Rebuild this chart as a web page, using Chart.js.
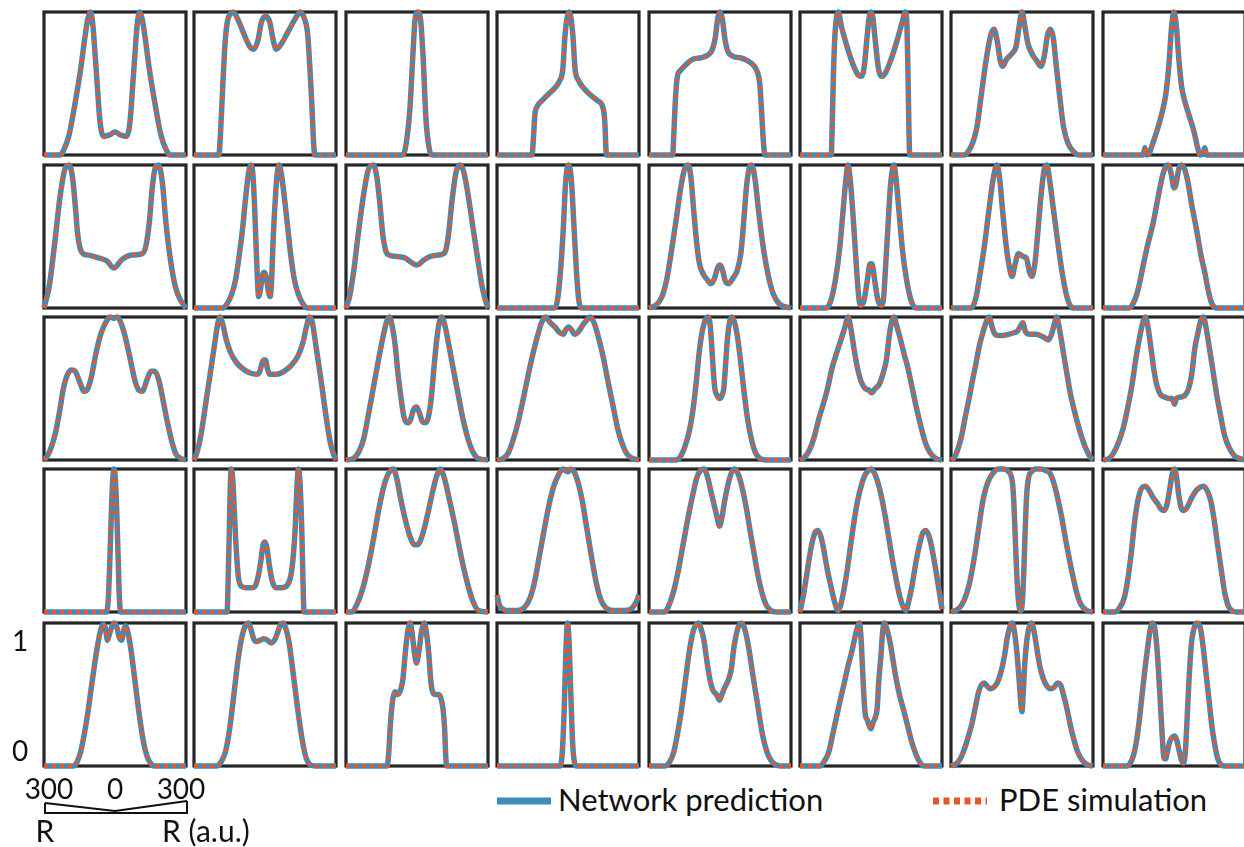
<!DOCTYPE html>
<html>
<head>
<meta charset="utf-8">
<script src="https://cdn.jsdelivr.net/npm/chart.js@4.4.1/dist/chart.umd.min.js"></script>
<style>
  body { margin: 0; width: 1244px; height: 847px; overflow: hidden; position: relative; background: #fff;
         font-family: Lato, "Open Sans", sans-serif; color: #111; }
  canvas.panel { position: absolute; }
  .lbl { position: absolute; font-size: 28px; line-height: 1; white-space: nowrap; }
  .mid { transform: translate(-50%, -50%); }
  .left { transform: translate(0, -50%); }
</style>
</head>
<body>
<script>
// radial profiles, [R, intensity], one list per row
const row1 = [
  [[-300,0],[-232,0],[-218,0.03],[-194,0.14],[-170,0.35],[-145,0.6],[-129,0.8],[-115,0.95],[-104,1],[-93,0.9],[-84,0.7],[-75,0.49],[-66,0.28],[-58,0.17],[-46,0.13],[-24,0.14],[0,0.16],[24,0.14],[46,0.13],[58,0.17],[66,0.28],[75,0.49],[84,0.7],[93,0.9],[104,1],[115,0.95],[129,0.8],[145,0.6],[170,0.35],[194,0.14],[218,0.03],[232,0],[300,0]],
  [[-300,0],[-195,0],[-188,0.15],[-178,0.5],[-168,0.8],[-158,0.94],[-145,0.99],[-134,1],[-115,0.95],[-90,0.85],[-65,0.76],[-48,0.74],[-30,0.8],[-15,0.93],[3,0.97],[20,0.93],[35,0.8],[48,0.74],[70,0.78],[100,0.87],[130,0.96],[149,1],[165,0.96],[180,0.85],[190,0.6],[198,0.35],[205,0.1],[210,0],[300,0]],
  [[-300,0],[-62,0],[-50,0.04],[-30,0.32],[-18,0.68],[-8,0.95],[4,1],[15,0.95],[26,0.68],[38,0.25],[50,0.06],[62,0],[300,0]],
  [[-300,0],[-152,0],[-146,0.12],[-140,0.28],[-130,0.34],[-110,0.38],[-80,0.43],[-55,0.47],[-35,0.52],[-22,0.6],[-12,0.85],[5,1],[20,0.85],[30,0.6],[45,0.52],[65,0.47],[95,0.42],[125,0.38],[148,0.33],[156,0.22],[160,0.05],[163,0],[300,0]],
  [[-300,0],[-200,0],[-195,0.15],[-188,0.4],[-180,0.55],[-168,0.59],[-145,0.63],[-115,0.67],[-80,0.68],[-50,0.7],[-32,0.74],[-20,0.82],[-10,0.95],[0,1],[10,0.95],[20,0.82],[32,0.73],[55,0.69],[85,0.68],[115,0.66],[140,0.63],[158,0.58],[168,0.5],[176,0.3],[183,0.1],[190,0],[300,0]],
  [[-300,0],[-168,0],[-164,0.2],[-159,0.55],[-152,0.85],[-145,0.97],[-138,1],[-125,0.9],[-105,0.78],[-80,0.65],[-55,0.56],[-42,0.55],[-30,0.6],[-18,0.8],[-8,0.96],[0,1],[8,0.96],[18,0.8],[32,0.6],[45,0.55],[60,0.57],[85,0.67],[110,0.8],[132,0.93],[145,1],[152,0.9],[156,0.6],[159,0.3],[162,0.05],[165,0],[300,0]],
  [[-300,0],[-245,0],[-225,0.03],[-205,0.1],[-190,0.2],[-172,0.42],[-150,0.68],[-132,0.84],[-118,0.88],[-105,0.8],[-92,0.66],[-82,0.62],[-65,0.67],[-42,0.71],[-25,0.76],[-12,0.9],[0,1],[12,0.9],[25,0.78],[45,0.7],[62,0.66],[80,0.62],[95,0.7],[108,0.84],[120,0.88],[132,0.82],[145,0.62],[160,0.4],[175,0.2],[195,0.08],[220,0.02],[240,0],[300,0]],
  [[-300,0],[-130,0],[-123,0.05],[-115,0],[-105,0.01],[-90,0.08],[-70,0.18],[-50,0.3],[-35,0.42],[-22,0.62],[-10,0.9],[0,1],[10,0.9],[20,0.68],[32,0.48],[45,0.38],[65,0.27],[85,0.16],[100,0.05],[110,0],[122,0.01],[130,0.05],[138,0],[300,0]]
];
const row2 = [
  [[-300,0],[-278,0.15],[-255,0.45],[-232,0.78],[-212,0.97],[-194,1],[-180,0.92],[-168,0.72],[-158,0.52],[-148,0.42],[-135,0.38],[-110,0.37],[-70,0.35],[-35,0.33],[-5,0.28],[30,0.34],[70,0.37],[115,0.38],[130,0.43],[145,0.6],[158,0.85],[172,0.99],[184,1],[200,0.88],[215,0.6],[235,0.33],[255,0.15],[275,0.06],[300,0]],
  [[-300,0],[-180,0],[-160,0.03],[-140,0.1],[-124,0.2],[-108,0.38],[-95,0.55],[-80,0.8],[-68,0.96],[-60,1],[-52,0.95],[-45,0.75],[-38,0.45],[-32,0.2],[-27,0.08],[-20,0.12],[-12,0.22],[-4,0.25],[5,0.22],[14,0.12],[22,0.08],[28,0.2],[35,0.5],[45,0.8],[53,0.96],[60,1],[68,0.95],[80,0.8],[95,0.58],[108,0.38],[124,0.2],[140,0.1],[160,0.03],[180,0],[300,0]],
  [[-300,0],[-285,0.08],[-268,0.25],[-248,0.52],[-225,0.8],[-205,0.97],[-184,1],[-170,0.92],[-158,0.75],[-145,0.52],[-132,0.4],[-118,0.37],[-85,0.36],[-50,0.35],[-25,0.32],[0,0.3],[25,0.33],[55,0.36],[90,0.37],[118,0.39],[132,0.5],[148,0.75],[165,0.95],[182,1],[198,0.95],[215,0.8],[235,0.58],[255,0.36],[275,0.15],[290,0.05],[300,0]],
  [[-300,0],[-58,0],[-45,0.05],[-32,0.25],[-20,0.55],[-10,0.88],[2,1],[14,0.9],[25,0.58],[36,0.25],[46,0.05],[56,0],[300,0]],
  [[-300,0],[-270,0.02],[-245,0.08],[-225,0.2],[-205,0.4],[-185,0.62],[-165,0.85],[-148,0.98],[-134,1],[-122,0.9],[-112,0.7],[-100,0.48],[-88,0.32],[-72,0.24],[-55,0.2],[-38,0.17],[-25,0.2],[-10,0.28],[0,0.3],[10,0.27],[22,0.19],[35,0.17],[55,0.21],[72,0.26],[88,0.38],[100,0.6],[112,0.85],[124,0.98],[134,1],[148,0.9],[165,0.65],[185,0.4],[205,0.22],[225,0.1],[250,0.03],[300,0]],
  [[-300,0],[-190,0],[-170,0.05],[-150,0.2],[-132,0.42],[-118,0.68],[-106,0.9],[-97,1],[-88,0.9],[-78,0.7],[-68,0.45],[-58,0.2],[-50,0.05],[-44,0.02],[-30,0.05],[-15,0.2],[-6,0.3],[0,0.31],[6,0.3],[15,0.2],[30,0.05],[44,0.02],[52,0.05],[62,0.3],[72,0.58],[82,0.85],[92,0.98],[97,1],[106,0.9],[118,0.68],[132,0.42],[150,0.2],[170,0.05],[190,0],[300,0]],
  [[-300,0],[-215,0],[-195,0.07],[-178,0.23],[-160,0.42],[-140,0.68],[-122,0.9],[-106,1],[-94,0.9],[-82,0.68],[-68,0.45],[-55,0.3],[-42,0.22],[-30,0.3],[-15,0.38],[-5,0.37],[5,0.36],[18,0.35],[32,0.25],[42,0.22],[55,0.32],[68,0.55],[80,0.78],[94,0.97],[105,1],[118,0.88],[132,0.7],[148,0.5],[162,0.33],[180,0.15],[195,0.05],[215,0],[300,0]],
  [[-300,0],[-190,0],[-170,0.04],[-150,0.14],[-130,0.3],[-110,0.45],[-90,0.58],[-70,0.75],[-52,0.9],[-38,0.98],[-25,1],[-12,0.94],[0,0.84],[8,0.86],[20,0.97],[32,1],[45,0.97],[60,0.87],[75,0.72],[95,0.55],[115,0.36],[130,0.25],[145,0.12],[160,0.03],[180,0],[300,0]]
];
const row3 = [
  [[-300,0],[-285,0.03],[-267,0.1],[-250,0.2],[-235,0.33],[-218,0.5],[-200,0.6],[-183,0.63],[-168,0.62],[-150,0.55],[-130,0.48],[-118,0.49],[-100,0.58],[-80,0.75],[-60,0.88],[-40,0.96],[-20,1],[-5,0.99],[10,1],[25,0.96],[45,0.85],[65,0.7],[85,0.55],[100,0.49],[115,0.48],[135,0.56],[152,0.62],[168,0.62],[185,0.56],[205,0.4],[222,0.26],[240,0.13],[258,0.04],[280,0.01],[300,0]],
  [[-300,0],[-288,0.05],[-270,0.18],[-250,0.4],[-230,0.62],[-212,0.82],[-200,0.95],[-191,1],[-180,0.96],[-165,0.85],[-145,0.75],[-120,0.68],[-95,0.64],[-65,0.61],[-35,0.6],[-22,0.62],[-12,0.68],[-5,0.7],[2,0.7],[10,0.64],[20,0.6],[50,0.6],[80,0.62],[110,0.66],[140,0.73],[160,0.82],[175,0.93],[188,1],[200,0.96],[215,0.8],[235,0.58],[255,0.34],[275,0.13],[290,0.04],[300,0]],
  [[-300,0],[-270,0.01],[-245,0.06],[-225,0.15],[-205,0.32],[-185,0.5],[-165,0.68],[-145,0.85],[-128,0.97],[-116,1],[-104,0.93],[-92,0.8],[-80,0.6],[-68,0.44],[-55,0.3],[-40,0.26],[-28,0.28],[-15,0.35],[-2,0.37],[10,0.33],[22,0.27],[35,0.26],[48,0.3],[60,0.43],[72,0.65],[84,0.85],[95,0.97],[104,1],[118,0.94],[135,0.8],[155,0.62],[175,0.45],[195,0.28],[215,0.15],[235,0.06],[260,0.01],[300,0]],
  [[-300,0],[-275,0.01],[-252,0.05],[-230,0.15],[-210,0.27],[-190,0.42],[-170,0.58],[-150,0.73],[-130,0.86],[-112,0.96],[-95,1],[-75,0.96],[-55,0.93],[-35,0.89],[-20,0.88],[-10,0.91],[3,0.93],[15,0.91],[28,0.88],[45,0.9],[65,0.95],[80,0.98],[93,1],[110,0.96],[130,0.85],[150,0.71],[170,0.54],[190,0.38],[210,0.22],[230,0.11],[250,0.04],[275,0.01],[300,0]],
  [[-300,0],[-185,0],[-165,0.03],[-147,0.1],[-130,0.2],[-115,0.34],[-100,0.55],[-88,0.75],[-75,0.9],[-62,0.98],[-50,1],[-42,0.95],[-35,0.8],[-28,0.62],[-22,0.5],[-12,0.45],[-2,0.43],[8,0.45],[16,0.5],[23,0.65],[30,0.82],[40,0.96],[50,1],[60,0.97],[72,0.88],[85,0.72],[100,0.5],[118,0.27],[135,0.13],[150,0.05],[170,0.01],[195,0],[300,0]],
  [[-300,0],[-280,0.02],[-260,0.07],[-240,0.16],[-220,0.29],[-200,0.4],[-185,0.49],[-165,0.64],[-145,0.75],[-125,0.85],[-110,0.93],[-97,1],[-85,0.92],[-72,0.78],[-58,0.65],[-42,0.55],[-25,0.5],[-10,0.49],[3,0.47],[18,0.5],[35,0.53],[50,0.6],[65,0.7],[78,0.88],[88,0.97],[97,1],[110,0.93],[125,0.84],[140,0.74],[155,0.65],[172,0.52],[190,0.38],[210,0.24],[230,0.12],[250,0.05],[275,0.01],[300,0]],
  [[-300,0],[-285,0.02],[-270,0.08],[-255,0.17],[-240,0.3],[-225,0.42],[-210,0.55],[-195,0.67],[-180,0.8],[-162,0.91],[-148,0.98],[-138,1],[-128,0.94],[-118,0.89],[-100,0.87],[-80,0.87],[-55,0.88],[-35,0.89],[-20,0.9],[-8,0.93],[3,0.96],[14,0.9],[30,0.88],[60,0.88],[90,0.86],[112,0.84],[125,0.88],[138,0.96],[146,1],[158,0.92],[172,0.78],[188,0.62],[205,0.46],[225,0.32],[245,0.2],[265,0.1],[285,0.03],[300,0]],
  [[-300,0],[-275,0.01],[-255,0.05],[-235,0.12],[-215,0.22],[-195,0.37],[-178,0.52],[-160,0.72],[-145,0.86],[-132,0.96],[-121,1],[-110,0.93],[-97,0.78],[-85,0.63],[-72,0.52],[-58,0.46],[-40,0.44],[-20,0.43],[-8,0.43],[2,0.39],[10,0.43],[25,0.44],[45,0.45],[62,0.5],[75,0.6],[88,0.78],[100,0.88],[112,0.97],[124,1],[135,0.93],[148,0.8],[165,0.62],[181,0.45],[198,0.3],[214,0.17],[235,0.08],[255,0.03],[280,0.01],[300,0]]
];
const row4 = [
  [[-300,0],[-36,0],[-28,0.1],[-20,0.45],[-12,0.85],[-4,1],[4,0.85],[12,0.45],[18,0.12],[24,0],[300,0]],
  [[-300,0],[-160,0],[-156,0.2],[-151,0.55],[-147,0.85],[-143,1],[-136,0.92],[-128,0.65],[-120,0.4],[-112,0.24],[-100,0.18],[-80,0.17],[-55,0.17],[-42,0.18],[-30,0.24],[-18,0.35],[-8,0.47],[0,0.49],[8,0.45],[18,0.33],[30,0.22],[45,0.17],[70,0.17],[95,0.19],[110,0.26],[120,0.4],[128,0.6],[135,0.88],[141,1],[148,0.9],[155,0.6],[160,0.25],[165,0],[300,0]],
  [[-300,0],[-275,0],[-255,0.05],[-230,0.16],[-205,0.33],[-185,0.5],[-160,0.73],[-140,0.88],[-120,0.97],[-100,1],[-85,0.93],[-70,0.8],[-50,0.65],[-30,0.53],[-10,0.47],[0,0.47],[12,0.49],[30,0.58],[50,0.72],[70,0.87],[85,0.96],[97,1],[115,0.94],[135,0.8],[160,0.61],[185,0.4],[210,0.22],[235,0.08],[260,0.01],[300,0]],
  [[-300,0.12],[-290,0.05],[-275,0.02],[-250,0.01],[-215,0.01],[-185,0.03],[-160,0.1],[-140,0.22],[-120,0.4],[-100,0.58],[-80,0.75],[-60,0.88],[-40,0.96],[-22,1],[-12,0.99],[0,0.98],[10,1],[22,0.99],[40,0.92],[60,0.78],[80,0.58],[100,0.38],[120,0.2],[140,0.08],[160,0.03],[190,0.01],[235,0.01],[265,0.02],[285,0.06],[300,0.12]],
  [[-300,0],[-235,0],[-215,0.05],[-195,0.15],[-175,0.3],[-155,0.48],[-135,0.66],[-115,0.82],[-98,0.94],[-82,0.99],[-67,1],[-52,0.94],[-38,0.84],[-25,0.75],[-12,0.66],[-2,0.6],[8,0.66],[20,0.78],[35,0.9],[50,0.98],[62,1],[78,0.96],[95,0.86],[112,0.72],[128,0.56],[145,0.4],[160,0.26],[178,0.13],[195,0.05],[215,0.01],[240,0],[300,0]],
  [[-300,0],[-285,0.12],[-268,0.3],[-252,0.46],[-238,0.55],[-225,0.57],[-212,0.53],[-200,0.44],[-185,0.3],[-168,0.17],[-152,0.06],[-140,0.01],[-128,0.05],[-115,0.15],[-100,0.3],[-85,0.48],[-70,0.65],[-55,0.79],[-40,0.89],[-25,0.96],[-10,0.99],[0,1],[15,0.97],[30,0.9],[45,0.8],[60,0.67],[75,0.52],[90,0.37],[105,0.24],[120,0.12],[135,0.04],[147,0.01],[160,0.08],[175,0.2],[190,0.35],[205,0.47],[218,0.55],[232,0.57],[245,0.53],[258,0.44],[270,0.33],[285,0.18],[300,0.02]],
  [[-300,0],[-270,0.02],[-245,0.08],[-225,0.18],[-210,0.3],[-195,0.45],[-180,0.62],[-165,0.78],[-150,0.88],[-135,0.94],[-118,0.98],[-100,1],[-80,1],[-62,0.99],[-48,0.96],[-40,0.9],[-34,0.75],[-28,0.5],[-22,0.26],[-16,0.1],[-10,0.02],[-4,0.01],[2,0.08],[8,0.3],[14,0.6],[20,0.82],[28,0.94],[40,0.98],[58,1],[80,1],[100,0.99],[118,0.97],[135,0.9],[150,0.8],[168,0.66],[185,0.5],[200,0.37],[215,0.25],[232,0.13],[250,0.05],[275,0.01],[300,0]],
  [[-300,0],[-250,0],[-230,0.03],[-210,0.1],[-195,0.23],[-180,0.42],[-165,0.65],[-150,0.8],[-135,0.87],[-121,0.88],[-105,0.85],[-88,0.8],[-70,0.76],[-55,0.72],[-42,0.71],[-30,0.75],[-18,0.86],[-8,0.96],[2,1],[10,0.95],[20,0.82],[30,0.73],[42,0.71],[55,0.73],[75,0.8],[100,0.86],[124,0.88],[140,0.85],[155,0.78],[170,0.64],[185,0.46],[200,0.29],[215,0.13],[230,0.04],[245,0.01],[265,0],[300,0]]
];
const row5 = [
  [[-300,0],[-175,0],[-160,0.03],[-145,0.1],[-130,0.22],[-115,0.37],[-100,0.55],[-88,0.69],[-75,0.83],[-62,0.94],[-50,0.99],[-40,0.96],[-32,0.88],[-22,0.93],[-12,0.98],[-3,1],[8,0.97],[18,0.9],[28,0.88],[36,0.94],[44,0.98],[55,0.93],[66,0.83],[78,0.68],[90,0.52],[105,0.33],[120,0.17],[135,0.07],[150,0.02],[165,0],[300,0]],
  [[-300,0],[-205,0],[-185,0.03],[-167,0.1],[-155,0.2],[-143,0.34],[-130,0.52],[-118,0.69],[-105,0.84],[-92,0.94],[-80,0.99],[-70,1],[-60,0.96],[-48,0.89],[-36,0.87],[-20,0.88],[-5,0.89],[10,0.88],[25,0.86],[40,0.88],[55,0.94],[66,0.99],[76,1],[88,0.96],[100,0.88],[112,0.74],[125,0.57],[138,0.4],[150,0.26],[162,0.14],[175,0.05],[190,0.01],[210,0],[300,0]],
  [[-300,0],[-126,0],[-120,0.08],[-112,0.3],[-102,0.47],[-92,0.52],[-82,0.5],[-72,0.52],[-60,0.6],[-50,0.78],[-40,0.93],[-29,1],[-20,0.92],[-10,0.78],[-2,0.72],[8,0.8],[20,0.95],[31,1],[40,0.93],[50,0.78],[58,0.6],[66,0.52],[78,0.5],[90,0.5],[100,0.48],[110,0.4],[117,0.25],[122,0.05],[126,0],[300,0]],
  [[-300,0],[-32,0],[-24,0.1],[-16,0.4],[-9,0.8],[-2,1],[5,0.85],[12,0.5],[20,0.15],[28,0.02],[36,0],[300,0]],
  [[-300,0],[-232,0],[-212,0.03],[-195,0.1],[-180,0.22],[-163,0.39],[-150,0.55],[-139,0.69],[-126,0.84],[-112,0.95],[-100,0.99],[-91,1],[-80,0.96],[-68,0.88],[-55,0.73],[-42,0.6],[-30,0.53],[-15,0.5],[-2,0.46],[8,0.5],[20,0.55],[35,0.6],[48,0.68],[58,0.82],[70,0.93],[82,0.99],[91,1],[102,0.97],[113,0.9],[124,0.8],[134,0.69],[146,0.56],[158,0.44],[170,0.31],[182,0.2],[198,0.1],[215,0.04],[235,0.01],[255,0],[300,0]],
  [[-300,0],[-215,0],[-195,0.04],[-178,0.1],[-162,0.22],[-146,0.34],[-130,0.46],[-113,0.58],[-97,0.7],[-81,0.8],[-68,0.9],[-56,0.98],[-49,1],[-43,0.92],[-38,0.76],[-32,0.55],[-25,0.37],[-15,0.32],[-5,0.27],[0,0.26],[8,0.3],[18,0.34],[26,0.4],[33,0.6],[41,0.75],[50,0.95],[57,1],[65,0.97],[81,0.86],[95,0.72],[105,0.62],[120,0.5],[138,0.39],[155,0.28],[170,0.18],[188,0.09],[205,0.03],[225,0],[300,0]],
  [[-300,0],[-275,0.02],[-258,0.06],[-243,0.12],[-228,0.2],[-211,0.3],[-196,0.42],[-183,0.52],[-170,0.57],[-160,0.58],[-148,0.56],[-135,0.54],[-120,0.55],[-105,0.58],[-90,0.65],[-75,0.76],[-62,0.9],[-50,0.98],[-41,1],[-32,0.94],[-22,0.8],[-12,0.6],[-4,0.42],[0,0.38],[5,0.5],[12,0.72],[22,0.9],[32,0.98],[41,1],[50,0.95],[62,0.83],[75,0.7],[90,0.61],[105,0.56],[120,0.54],[135,0.55],[150,0.58],[162,0.57],[175,0.5],[190,0.4],[205,0.28],[220,0.18],[235,0.1],[255,0.04],[275,0.01],[300,0]],
  [[-300,0],[-198,0],[-185,0.02],[-172,0.07],[-160,0.16],[-148,0.3],[-136,0.48],[-124,0.66],[-112,0.82],[-100,0.96],[-91,1],[-82,0.97],[-74,0.86],[-66,0.68],[-58,0.45],[-50,0.22],[-43,0.06],[-36,0.05],[-28,0.1],[-18,0.17],[-8,0.2],[2,0.21],[10,0.19],[20,0.12],[30,0.05],[40,0.02],[48,0.1],[56,0.35],[64,0.62],[74,0.86],[88,0.98],[100,1],[112,0.96],[124,0.82],[136,0.64],[148,0.46],[160,0.28],[172,0.15],[185,0.05],[198,0.01],[210,0],[300,0]]
];
const rows = [row1, row2, row3, row4, row5];

const seriesNames = ['Network prediction', 'PDE simulation'];
const radiusTicks = ['300', '0', '300'];
const intensityTicks = ['1', '0'];

const BLUE = '#3d8bba';
const ORANGE = '#e4582b';

// panel placement in the figure
const colLeft = [44, 194, 346, 497, 649, 800, 951, 1103];
const rowTop = [12, 165, 317, 469, 623];
const W = 142, H = 143, PAD = 7;

const frame = {
  id: 'frame',
  beforeDatasetsDraw(chart) {
    const ctx = chart.ctx, a = chart.chartArea;
    ctx.save();
    ctx.strokeStyle = '#262626';
    ctx.lineWidth = 3.2;
    ctx.strokeRect(a.left, a.top, a.right - a.left, a.bottom - a.top);
    ctx.restore();
  }
};

function makePanel(profile, left, top) {
  var canvas = document.createElement('canvas');
  canvas.className = 'panel';
  canvas.width = W + 2 * PAD;
  canvas.height = H + 2 * PAD;
  canvas.style.left = (left - PAD) + 'px';
  canvas.style.top = (top - PAD) + 'px';
  canvas.style.width = canvas.width + 'px';
  canvas.style.height = canvas.height + 'px';
  document.body.appendChild(canvas);

  var pts = profile.map(function(p) { return {x: p[0], y: p[1]}; });

  new Chart(canvas.getContext('2d'), {
    type: 'line',
    data: {
      datasets: [
        // index 0 is drawn last, so the dotted PDE line sits on top
        { label: seriesNames[1], data: pts, borderColor: ORANGE, borderWidth: 4, borderDash: [4, 4],
          borderCapStyle: 'butt', pointRadius: 0, cubicInterpolationMode: 'monotone', clip: false },
        { label: seriesNames[0], data: pts, borderColor: BLUE, borderWidth: 5.5,
          pointRadius: 0, cubicInterpolationMode: 'monotone', clip: false }
      ]
    },
    options: {
      responsive: false,
      animation: false,
      devicePixelRatio: 1,
      layout: { padding: PAD },
      events: [],
      plugins: { legend: { display: false }, tooltip: { enabled: false } },
      scales: {
        x: { type: 'linear', min: -300, max: 300, display: false },
        y: { type: 'linear', min: 0, max: 1, display: false }
      }
    },
    plugins: [frame]
  });
}

rows.forEach(function(row, r) {
  row.forEach(function(profile, c) {
    makePanel(profile, colLeft[c], rowTop[r]);
  });
});

function addText(txt, x, y, cls, size) {
  var d = document.createElement('div');
  d.className = 'lbl ' + cls;
  d.textContent = txt;
  d.style.left = x + 'px';
  d.style.top = y + 'px';
  if (size) d.style.fontSize = size + 'px';
  document.body.appendChild(d);
  return d;
}

// axis hints on the bottom-left panel
addText(intensityTicks[0], 20, 640, 'mid');
addText(intensityTicks[1], 20, 750, 'mid');
addText(radiusTicks[0], 49, 788, 'mid');
addText(radiusTicks[1], 115, 788, 'mid');
addText(radiusTicks[2], 181, 788, 'mid');
addText('R', 45, 830, 'mid', 30);
addText('R (a.u.)', 162, 830, 'left', 30);

// legend
addText(seriesNames[0], 558, 799, 'left', 31);
addText(seriesNames[1], 999, 799, 'left', 31);
</script>
<svg width="1244" height="847" style="position:absolute;left:0;top:0;pointer-events:none">
  <polyline points="45,803 45,813 187,813 187,801" fill="none" stroke="#111" stroke-width="2"/>
  <polyline points="45,803 115,811 187,801" fill="none" stroke="#111" stroke-width="2"/>
  <line x1="497" y1="801" x2="551" y2="801" stroke="#3d8bba" stroke-width="7"/>
  <line x1="933" y1="801" x2="987" y2="801" stroke="#e4582b" stroke-width="7" stroke-dasharray="6,4.5"/>
</svg>
</body>
</html>
